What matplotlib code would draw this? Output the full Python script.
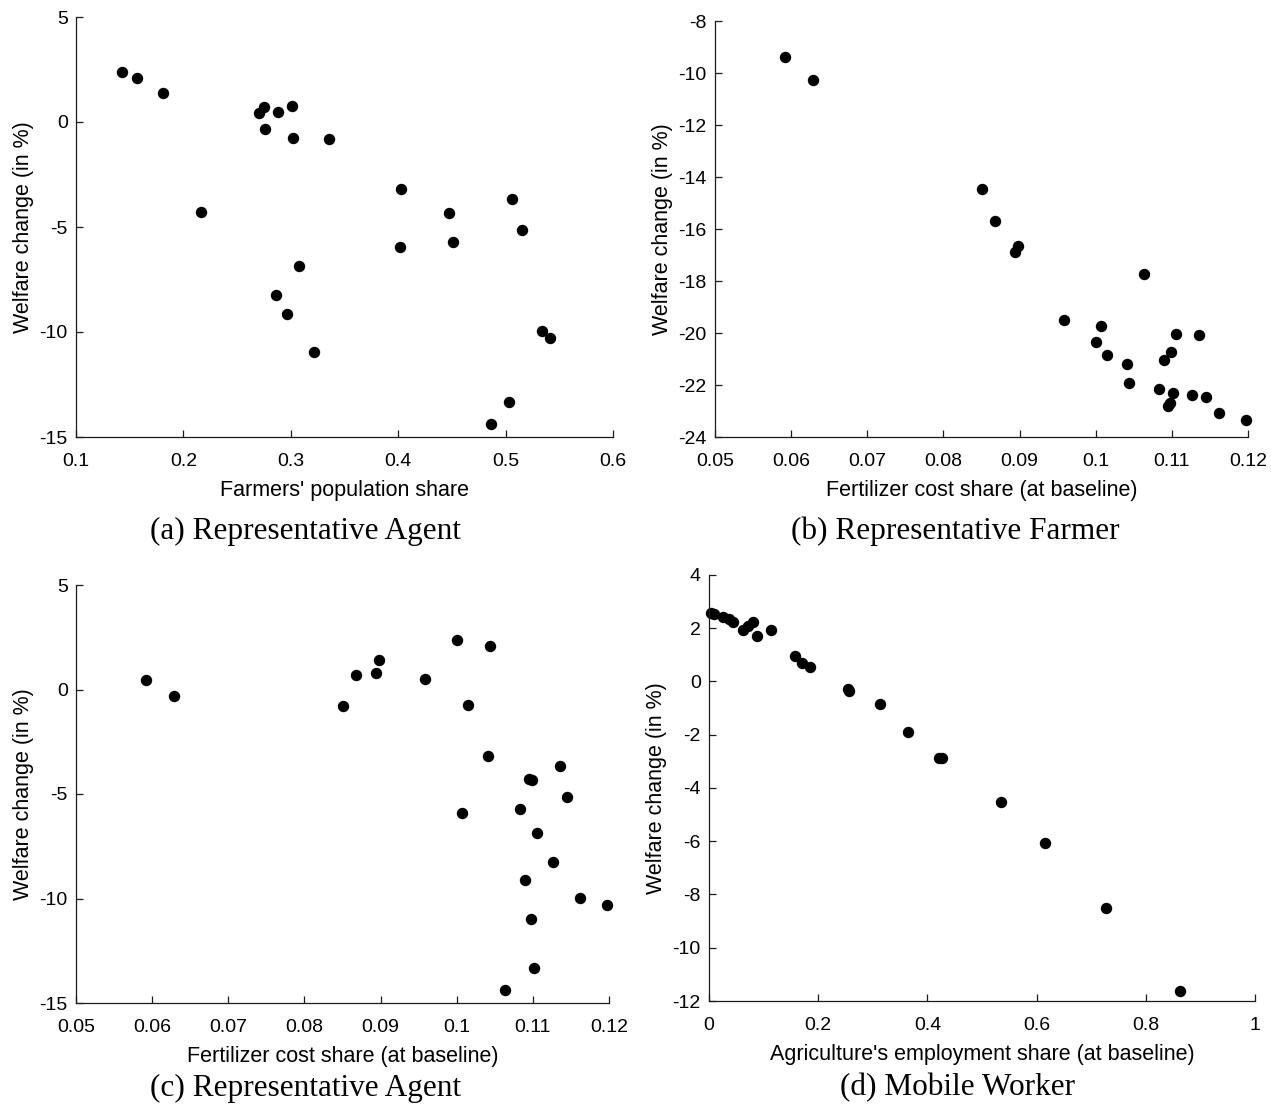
import matplotlib
matplotlib.use("Agg")
import matplotlib.pyplot as plt
from matplotlib.ticker import FuncFormatter, MultipleLocator

plt.rcParams["axes.unicode_minus"] = False

# Regional data: farmers' population share, fertilizer cost share (baseline),
# welfare change for the representative agent and the representative farmer.
farmer_share = [0.270, 0.276, 0.336, 0.275, 0.301, 0.181, 0.288, 0.143, 0.157,
                0.302, 0.403, 0.402, 0.216, 0.447, 0.506, 0.515, 0.451, 0.308,
                0.286, 0.296, 0.534, 0.541, 0.322, 0.503, 0.486]
fert_share = [0.0592, 0.0629, 0.0851, 0.0868, 0.0894, 0.0898, 0.0958, 0.1000,
              0.1044, 0.1015, 0.1041, 0.1007, 0.1095, 0.1099, 0.1136, 0.1145,
              0.1083, 0.1105, 0.1126, 0.1090, 0.1162, 0.1197, 0.1097, 0.1102,
              0.1063]
welfare_agent = [0.45, -0.32, -0.80, 0.70, 0.77, 1.40, 0.48, 2.39, 2.08,
                 -0.75, -3.19, -5.93, -4.29, -4.32, -3.66, -5.12, -5.72, -6.88,
                 -8.26, -9.12, -9.97, -10.29, -10.97, -13.31, -14.36]
welfare_farmer = [-9.37, -10.28, -14.45, -15.71, -16.90, -16.66, -19.50, -20.33,
                  -21.94, -20.85, -21.21, -19.74, -22.80, -20.72, -20.09, -22.47,
                  -22.14, -20.02, -22.38, -21.02, -23.06, -23.34, -22.68, -22.32,
                  -17.73]

# Mobile worker: agriculture's employment share vs welfare change
ag_emp_share = [0.003, 0.009, 0.026, 0.037, 0.044, 0.062, 0.071, 0.080, 0.088,
                0.114, 0.157, 0.171, 0.185, 0.254, 0.256, 0.3125, 0.364, 0.421,
                0.426, 0.534, 0.615, 0.727, 0.863]
welfare_mobile = [2.58, 2.52, 2.41, 2.35, 2.22, 1.93, 2.10, 2.22, 1.72, 1.94,
                  0.94, 0.71, 0.55, -0.30, -0.37, -0.84, -1.88, -2.89, -2.89,
                  -4.51, -6.07, -8.51, -11.61]

captions = ["(a) Representative Agent", "(b) Representative Farmer",
            "(c) Representative Agent", "(d) Mobile Worker"]
ylabel = "Welfare change (in %)"

W, H = 1271, 1108
fig = plt.figure(figsize=(W / 100, H / 100), dpi=100)

SANS = "Liberation Sans"
SERIF = "Liberation Serif"


def make_axes(left, top, right, bottom):
    return fig.add_axes([left / W, 1 - bottom / H, (right - left) / W, (bottom - top) / H])


fmt = FuncFormatter(lambda v, _: "%g" % round(v, 6))


def style(ax, xlim, xstep, ylim, ystep, xlabel):
    ax.set_xlim(*xlim)
    ax.set_ylim(*ylim)
    ax.xaxis.set_major_locator(MultipleLocator(xstep))
    ax.yaxis.set_major_locator(MultipleLocator(ystep))
    ax.xaxis.set_major_formatter(fmt)
    ax.yaxis.set_major_formatter(fmt)
    for s in ("top", "right"):
        ax.spines[s].set_visible(False)
    for s in ("left", "bottom"):
        ax.spines[s].set_linewidth(0.9)
        ax.spines[s].set_color("#1a1a1a")
    ax.tick_params(direction="in", length=5, width=0.9, colors="#1a1a1a",
                   labelcolor="black", labelsize=14)
    ax.tick_params(axis="x", pad=11.5)
    ax.tick_params(axis="y", pad=6)
    for lab in ax.get_xticklabels() + ax.get_yticklabels():
        lab.set_fontfamily(SANS)
    ax.set_xlabel(xlabel, fontsize=15.5, fontfamily=SANS, labelpad=7)
    ax.set_ylabel(ylabel, fontsize=15.5, fontfamily=SANS, labelpad=4)


def dots(ax, x, y):
    ax.plot(x, y, "o", color="black", markersize=7.2, linestyle="none", clip_on=False)


ax_a = make_axes(76, 17, 613, 437)
dots(ax_a, farmer_share, welfare_agent)
style(ax_a, (0.1, 0.6), 0.1, (-15, 5), 5, "Farmers' population share")

ax_b = make_axes(715, 21, 1248, 437)
dots(ax_b, fert_share, welfare_farmer)
style(ax_b, (0.05, 0.12), 0.01, (-24, -8), 2, "Fertilizer cost share (at baseline)")

ax_c = make_axes(76, 585, 609, 1003)
dots(ax_c, fert_share, welfare_agent)
style(ax_c, (0.05, 0.12), 0.01, (-15, 5), 5, "Fertilizer cost share (at baseline)")

ax_d = make_axes(709, 575, 1255, 1001)
dots(ax_d, ag_emp_share, welfare_mobile)
style(ax_d, (0, 1), 0.2, (-12, 4), 2, "Agriculture's employment share (at baseline)")

caption_pos = [(306, 531), (955, 531), (306, 1088), (958, 1088)]
for text, (cx, cy) in zip(captions, caption_pos):
    fig.text(cx / W, 1 - cy / H, text, ha="center", va="center",
             fontsize=22.5, fontfamily=SERIF)

fig.savefig("out.png", dpi=100, facecolor="white")
